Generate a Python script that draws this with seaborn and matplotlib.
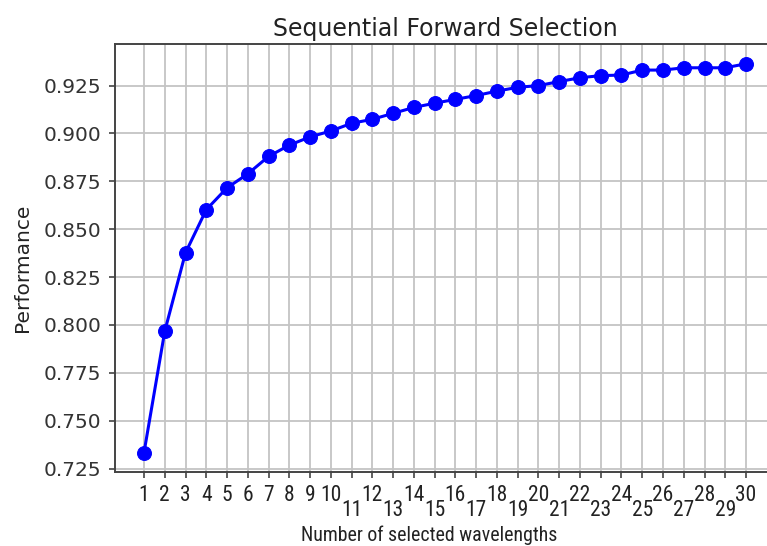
import matplotlib
matplotlib.use("Agg")
import matplotlib.pyplot as plt
from matplotlib import font_manager
import pandas as pd
import seaborn as sns

# number of selected wavelengths vs. performance
n_selected = [1, 2, 3, 4, 5, 6, 7, 8, 9, 10,
              11, 12, 13, 14, 15, 16, 17, 18, 19, 20,
              21, 22, 23, 24, 25, 26, 27, 28, 29, 30]
performance = [0.7333, 0.7967, 0.8377, 0.8602, 0.8716, 0.8789, 0.8880, 0.8939, 0.8982, 0.9013,
               0.9053, 0.9074, 0.9105, 0.9136, 0.9158, 0.9178, 0.9198, 0.9221, 0.9241, 0.9250,
               0.9271, 0.9291, 0.9302, 0.9305, 0.9331, 0.9331, 0.9343, 0.9343, 0.9343, 0.9364]
tick_labels = [str(n) for n in n_selected]
y_ticks = [0.725, 0.750, 0.775, 0.800, 0.825, 0.850, 0.875, 0.900, 0.925]

df = pd.DataFrame({"n": n_selected, "perf": performance})

sns.set_style("ticks")
plt.rcParams["font.family"] = ["DejaVu Sans"]

# narrow face for the x axis texts if one is installed
installed = {f.name for f in font_manager.fontManager.ttflist}
narrow = "DejaVu Sans"
for cand in ["DejaVu Sans Condensed", "Liberation Sans Narrow", "Roboto Condensed", "Open Sans Condensed"]:
    if cand in installed:
        narrow = cand
        break
shrink = 1.0 if narrow != "DejaVu Sans" else 0.85

fig = plt.figure(figsize=(7.67, 5.46), dpi=100)
# axes runs past the right edge, the reference is cropped there
ax = fig.add_axes([0.1493, 0.1355, 0.8626, 0.7835])

sns.lineplot(data=df, x="n", y="perf", ax=ax, color="#0000ff", marker="o",
             markersize=10, linewidth=2.2, markeredgecolor="#0000ff")

ax.set_xlim(-0.42, 31.45)
ax.set_ylim(0.7232, 0.9466)
ax.set_xticks(n_selected)
ax.set_xticklabels(tick_labels, fontsize=15.5 * shrink, color="#222222", family=narrow)
ax.set_yticks(y_ticks)
ax.set_yticklabels([f"{v:.3f}" for v in y_ticks], fontsize=14.5, color="#333333")

ax.grid(True, color="#c4c4c4", linewidth=1.3)
ax.set_axisbelow(True)
for s in ["left", "bottom", "top"]:
    ax.spines[s].set_color("#444444")
    ax.spines[s].set_linewidth(1.4)
ax.spines["right"].set_visible(False)
ax.tick_params(axis="both", direction="out", length=4.5, width=1.2, color="#444444")
ax.tick_params(axis="x", pad=5)
ax.tick_params(axis="y", pad=5)

# staggered labels: odd ticks from 11 on sit one row lower
for i, t in enumerate(ax.xaxis.get_major_ticks()):
    if n_selected[i] >= 11 and n_selected[i] % 2 == 1:
        t.set_pad(16)

ax.set_title("Sequential Forward Selection", fontsize=17, color="#222222", pad=6)
ax.set_ylabel("Performance", fontsize=14.5, color="#222222")
ax.yaxis.set_label_coords(-0.1247, 0.477)
ax.set_xlabel("Number of selected wavelengths", fontsize=14.3 * shrink, color="#222222", family=narrow)
ax.xaxis.set_label_coords(0.475, -0.126)

fig.savefig("out.png", dpi=100)
